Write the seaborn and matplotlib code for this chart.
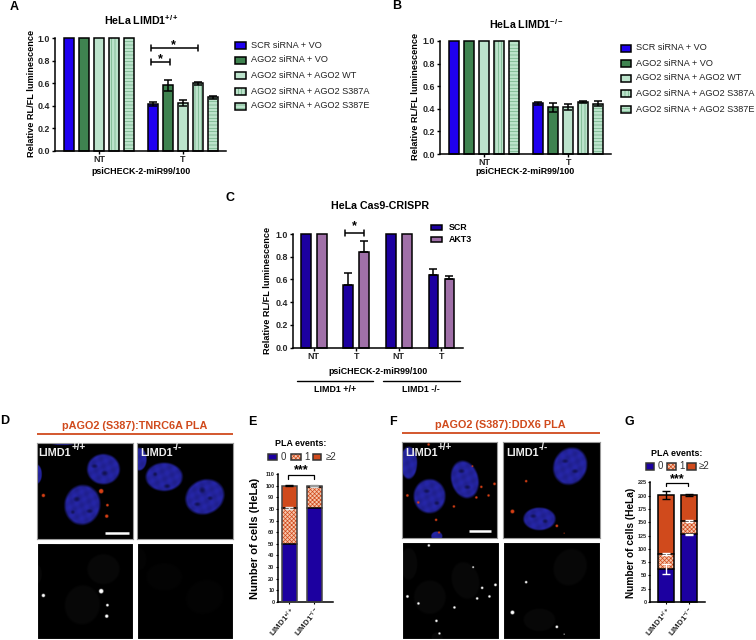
import numpy as np
import pandas as pd
import matplotlib
matplotlib.use('Agg')
import matplotlib.pyplot as plt
import seaborn as sns
from matplotlib.patches import Rectangle

W, H = 756, 640

# bar data, panels A and B
targets = ['NT', 'T']
conditions = ['SCR siRNA + VO', 'AGO2 siRNA + VO', 'AGO2 siRNA + AGO2 WT',
              'AGO2 siRNA + AGO2 S387A', 'AGO2 siRNA + AGO2 S387E']
a_nt = [1.0, 1.0, 1.0, 1.0, 1.0]
a_t = [0.415, 0.58, 0.425, 0.60, 0.475]
a_t_err = [0.02, 0.045, 0.025, 0.015, 0.012]
b_nt = [1.0, 1.0, 1.0, 1.0, 1.0]
b_t = [0.45, 0.415, 0.415, 0.46, 0.445]
b_t_err = [0.012, 0.04, 0.025, 0.012, 0.02]
cond_colors = ['#1F00F0', '#3F8350', '#BCE3CC', '#BCE3CC', '#BCE3CC']
cond_hatches = [None, None, None, '|||||', '-----']
HATCH_GREEN = '#6FAF85'

# panel C
c_targets = ['NT', 'T', 'NT ', 'T ']
c_scr = [1.0, 0.55, 1.0, 0.635]
c_akt3 = [1.0, 0.845, 1.0, 0.605]
c_scr_err = [0, 0.11, 0, 0.06]
c_akt3_err = [0, 0.09, 0, 0.025]
C_BLUE = '#1C00A0'
C_PURPLE = '#A070A8'
C_ORANGE = '#D04A1C'

# stacked panels E and G
limd_labels = ['LIMD1$^{+/+}$', 'LIMD1$^{-/-}$']
e_zero = [50, 81]
e_one = [31, 18]
e_two = [19, 1]
g_zero = [62, 127]
g_one = [29, 26]
g_two = [110, 48]
g_zero_err = [9, 1.5]
g_one_err = [2, 2]
g_two_err = [7, 2.5]
e_one_err = [1, 0.5]
e_two_err = [0.5, 0.5]

# microscopy panels, in panel pixels (x, y, rx, ry, angle)
d_left_nuclei = [(45.7, 62.7, 19, 21, 10), (67, 27, 17.5, 16, 0), (0, 32, 5, 10, 0), (26, 0, 15, 3, 0)]
d_left_holes = [(40, 57, 3, 2.5), (53, 69, 3, 2), (58, 24, 3, 2), (68, 31, 3, 2.5), (36, 70, 2, 2)]
d_left_dots = [(6.3, 53.3, 1.5), (64.7, 49, 2), (71, 63, 1.2), (70.3, 74, 1.5)]
d_right_nuclei = [(27, 34.7, 19.5, 15, 0), (67.7, 54.7, 21, 18, -25), (2, 17, 8, 12, 0)]
d_right_holes = [(30, 44, 3, 2), (18, 32, 2, 2), (65, 48, 3, 3), (73, 56, 2.5, 2), (60, 62, 3, 2)]
f_left_nuclei = [(27.7, 55, 17, 18, 0), (63.3, 38.3, 14.5, 20, -15), (6.7, 21.7, 9, 17, 0), (35, 95, 6, 5, 0)]
f_left_holes = [(25, 50, 3, 2), (35, 62, 2.5, 2), (60, 30, 3, 2), (66, 46, 3, 2)]
f_left_dots = [(26.7, 3.3, 1.1), (71, 25, 0.8), (80, 45.7, 1.1), (93.3, 42.7, 1.2), (87.3, 54.3, 1.1), (75, 56.3, 1.1),
               (52.3, 65.3, 1.1), (5.3, 54.3, 1.2), (16.3, 61.3, 1.1), (34.3, 78.7, 1.1), (37.3, 91.3, 1.0)]
f_right_nuclei = [(67, 25, 17.5, 20, 25), (36.3, 77.7, 17, 12, 0)]
f_right_holes = [(62, 20, 3, 2), (72, 30, 3, 2), (30, 75, 3, 2), (42, 80, 2.5, 2)]
f_right_dots = [(23, 40, 1.1), (9.3, 70.3, 1.7), (53.7, 84.7, 1.2), (61, 92, 0.5)]

sns.set_style('ticks')
plt.rcParams['font.family'] = ['Liberation Sans', 'DejaVu Sans']
plt.rcParams['mathtext.fontset'] = 'custom'
plt.rcParams['mathtext.rm'] = 'Liberation Sans'
plt.rcParams['mathtext.bf'] = 'Liberation Sans:bold'
plt.rcParams['mathtext.default'] = 'regular'
plt.rcParams['hatch.linewidth'] = 0.5

fig = plt.figure(figsize=(W / 100, H / 100), dpi=100, facecolor='white')


def axes_px(left, top, right, bottom):
    return fig.add_axes([left / W, 1 - bottom / H, (right - left) / W, (bottom - top) / H])


# overlay in pixel coordinates for labels, brackets and legends
over = fig.add_axes([0, 0, 1, 1], zorder=10)
over.set_xlim(0, W)
over.set_ylim(H, 0)
over.axis('off')


def label(x, y, s, size=6.4, weight='bold', color='black', rotation=0, ha='center'):
    over.text(x, y, s, fontsize=size, fontweight=weight, color=color, rotation=rotation,
              ha=ha, va='center')


def bracket(x0, x1, y, star_x, star_y, stars='*', both=True, lw=1.1):
    over.plot([x0, x1], [y, y], color='black', lw=lw, solid_capstyle='butt')
    low = y + 3 if both else y + 3.5
    high = y - 3 if both else y
    over.plot([x0, x0], [high, low], color='black', lw=lw)
    over.plot([x1, x1], [high, low], color='black', lw=lw)
    label(star_x, star_y, stars, size=9)


def swatch(x0, x1, yc, color, hatch=None, hatch_color=None, h=7, edge='black', lw=1.1):
    over.add_patch(Rectangle((x0, yc - h / 2), x1 - x0, h, facecolor=color,
                             edgecolor=hatch_color if hatch else 'none', hatch=hatch, lw=0))
    over.add_patch(Rectangle((x0, yc - h / 2), x1 - x0, h, facecolor='none', edgecolor=edge, lw=lw))


def outline_bars(ax, edge='black', lw=1.1):
    for p in list(ax.patches):
        ax.add_patch(Rectangle((p.get_x(), p.get_y()), p.get_width(), p.get_height(), facecolor='none',
                               edgecolor=edge, lw=lw, clip_on=False, zorder=3))


def style_axis(ax, yticks, size=6.4, ticklen=2.2, ypad=1.2, xpad=1):
    ax.set_yticks(yticks)
    ax.set_xlabel('')
    ax.set_ylabel('')
    ax.tick_params(axis='y', labelsize=size, length=ticklen, width=1, pad=ypad, color='black')
    ax.tick_params(axis='x', labelsize=size, length=ticklen, width=1, pad=xpad, color='black')
    for t in ax.get_xticklabels() + ax.get_yticklabels():
        t.set_fontweight('bold')
    sns.despine(ax=ax)
    for side in ['left', 'bottom']:
        ax.spines[side].set_linewidth(1.1)
        ax.spines[side].set_color('black')


def grouped_panel(box, nt, t, t_err):
    ax = axes_px(*box)
    df = pd.DataFrame({
        'target': [targets[0]] * 5 + [targets[1]] * 5,
        'condition': conditions * 2,
        'value': nt + t,
    })
    sns.barplot(data=df, x='target', y='value', hue='condition', hue_order=conditions, palette=cond_colors,
                width=0.89, gap=0.3, errorbar=None, saturation=1, legend=False, linewidth=0, ax=ax)
    bars = list(ax.patches)
    for i, p in enumerate(bars):
        hatch = cond_hatches[i // 2]
        if hatch:
            p.set_hatch(hatch)
            p.set_edgecolor(HATCH_GREEN)
            p.set_linewidth(0)
    outline_bars(ax)
    for k in range(5):
        p = bars[k * 2 + 1]
        ax.errorbar(p.get_x() + p.get_width() / 2, t[k], yerr=t_err[k], color='black',
                    capsize=3.2, elinewidth=1.1, capthick=1.1, zorder=4)
    ax.set_xlim(-0.53, 1.51)
    ax.set_ylim(0, 1)
    style_axis(ax, [0, 0.2, 0.4, 0.6, 0.8, 1.0])
    ax.set_yticklabels(['0.0', '0.2', '0.4', '0.6', '0.8', '1.0'], fontweight='bold')
    return ax


# panel A
grouped_panel((54.5, 38, 226, 151), a_nt, a_t, a_t_err)
# panel B
grouped_panel((439.5, 41, 611, 154), b_nt, b_t, b_t_err)

for x0, x1, text_x, ys in [(235, 246, 251, [45, 60, 75.5, 91, 106]), (620.5, 631, 635.5, [48, 63, 78, 93, 109])]:
    for k, yc in enumerate(ys):
        swatch(x0, x1, yc, cond_colors[k], cond_hatches[k], HATCH_GREEN)
        label(text_x, yc, conditions[k], size=6.6, weight='normal', ha='left', color='#222222')

label(32, 93, 'Relative RL/FL luminescence', size=6.6, rotation=90)
label(141, 172, 'psiCHECK-2-miR99/100')
label(141, 20, 'HeLa LIMD1$^{+/+}$', size=7.7)
bracket(151.3, 197.7, 48, 173, 45)
bracket(151.3, 170, 62, 160, 59)

label(416, 96, 'Relative RL/FL luminescence', size=6.6, rotation=90)
label(525, 172, 'psiCHECK-2-miR99/100')
label(526, 24, 'HeLa LIMD1$^{-/-}$', size=7.7)

# panel C
ax_c = axes_px(292.5, 234, 463, 347.5)
df_c = pd.DataFrame({
    'target': c_targets * 2,
    'group': ['SCR'] * 4 + ['AKT3'] * 4,
    'value': c_scr + c_akt3,
})
sns.barplot(data=df_c, x='target', y='value', hue='group', palette=[C_BLUE, C_PURPLE], width=0.753, gap=0.4,
            errorbar=None, saturation=1, legend=False, linewidth=0, ax=ax_c)
c_bars = list(ax_c.patches)
outline_bars(ax_c)
c_errs = c_scr_err + c_akt3_err
for p, e in zip(c_bars, c_errs):
    if e > 0:
        ax_c.errorbar(p.get_x() + p.get_width() / 2, p.get_height(), yerr=[[0], [e]], color='black',
                      capsize=2.6, elinewidth=1.1, capthick=1.1, zorder=4)
ax_c.set_xlim(-0.5, 3.51)
ax_c.set_ylim(0, 1)
style_axis(ax_c, [0, 0.2, 0.4, 0.6, 0.8, 1.0])
ax_c.set_yticklabels(['0.0', '0.2', '0.4', '0.6', '0.8', '1.0'], fontweight='bold')
ax_c.set_xticks(range(4))
ax_c.set_xticklabels(['NT', 'T', 'NT', 'T'], fontweight='bold')

label(380, 206, 'HeLa Cas9-CRISPR', size=7.7)
label(268, 290, 'Relative RL/FL luminescence', size=6.6, rotation=90)
label(378, 372, 'psiCHECK-2-miR99/100')
over.plot([297, 373], [381, 381], color='black', lw=1)
over.plot([383, 460], [381, 381], color='black', lw=1)
label(335, 390, 'LIMD1 +/+')
label(421, 390, 'LIMD1 -/-')
bracket(345, 363.7, 232.5, 354.7, 226)
swatch(431, 442, 227, C_BLUE, h=5)
swatch(431, 442, 239.5, C_PURPLE, h=5)
label(449, 227, 'SCR', ha='left')
label(449, 239.5, 'AKT3', ha='left')


def stacked_panel(box, zero, one, two, xlim, ymax, yticks, bar_w, edge):
    ax = axes_px(*box)
    top = [a + b + c for a, b, c in zip(zero, one, two)]
    mid = [a + b for a, b in zip(zero, one)]
    sns.barplot(x=limd_labels, y=top, color=C_ORANGE, width=bar_w, saturation=1, errorbar=None, linewidth=0, ax=ax)
    n = len(ax.patches)
    sns.barplot(x=limd_labels, y=mid, color='#F6C6AC', width=bar_w, saturation=1, errorbar=None, linewidth=0, ax=ax)
    for p in ax.patches[n:]:
        p.set_hatch('xxxxxxxx')
        p.set_edgecolor(C_ORANGE)
        p.set_linewidth(0)
    sns.barplot(x=limd_labels, y=zero, color=C_BLUE, width=bar_w, saturation=1, errorbar=None, linewidth=0, ax=ax)
    bars = list(ax.patches)
    for p in bars[n:]:
        ax.plot([p.get_x(), p.get_x() + p.get_width()], [p.get_height()] * 2, color='black', lw=1.1, zorder=3)
    for p in bars[:n]:
        ax.add_patch(Rectangle((p.get_x(), 0), p.get_width(), p.get_height(), facecolor='none',
                               edgecolor=edge, lw=1.1, clip_on=False, zorder=3))
    ax.set_xlim(*xlim)
    ax.set_ylim(0, ymax)
    style_axis(ax, yticks, size=4, ticklen=1.6, ypad=0.6)
    ax.tick_params(axis='both', width=0.8)
    ax.set_xticks([0, 1])
    ax.set_xticklabels(limd_labels, rotation=50, ha='right', rotation_mode='anchor', fontsize=5.7, fontweight='bold')
    centers = [p.get_x() + p.get_width() / 2 for p in bars[:n]]
    return ax, centers, top, mid


# panel E
ax_e, xs_e, top_e, mid_e = stacked_panel((277.5, 474, 333, 602), e_zero, e_one, e_two, (-0.47, 1.76), 110,
                                         list(range(0, 111, 10)), 0.6, '#444444')
ax_e.errorbar(xs_e, mid_e, yerr=e_one_err, fmt='none', color='#E8E8E8', capsize=2.8, elinewidth=1, capthick=1, zorder=4)
ax_e.errorbar(xs_e[:1], top_e[:1], yerr=e_two_err[:1], fmt='none', color='black', capsize=2.8, elinewidth=1, capthick=1, zorder=4)
ax_e.errorbar(xs_e[1:], top_e[1:], yerr=e_two_err[1:], fmt='none', color='#999999', capsize=2.8, elinewidth=1, capthick=1, zorder=4)
label(255, 538, 'Number of cells (HeLa)', size=8, rotation=90)

# panel G
ax_g, xs_g, top_g, mid_g = stacked_panel((650, 482.3, 705, 602), g_zero, g_one, g_two, (-0.67, 1.69), 225,
                                         list(range(0, 226, 25)), 0.69, 'black')
ax_g.errorbar(xs_g, g_zero, yerr=g_zero_err, fmt='none', color='white', capsize=3.2, elinewidth=1, capthick=1, zorder=4)
ax_g.errorbar(xs_g, mid_g, yerr=g_one_err, fmt='none', color='white', capsize=3.2, elinewidth=1, capthick=1, zorder=4)
ax_g.errorbar(xs_g, top_g, yerr=g_two_err, fmt='none', color='black', capsize=3.2, elinewidth=1, capthick=1, zorder=4,
              clip_on=False)
label(631.5, 543, 'Number of cells (HeLa)', size=7.3, rotation=90)

PLA_FACE = '#F6C6AC'
for title_x, title_y, yc, boxes, text_xs in [
    (301, 443.7, 457, [(268, 277), (291, 300.7), (312.7, 321)], [283, 307.3, 330.7]),
    (677, 453.3, 466.3, [(645.7, 654.3), (667.3, 676), (687.3, 696)], [660.7, 682, 704.3]),
]:
    label(title_x, title_y, 'PLA events:')
    for (x0, x1), tx, col, hat, name in zip(boxes, text_xs, [C_BLUE, PLA_FACE, C_ORANGE], [None, 'xxxxxxxx', None], ['0', '1', '≥2']):
        swatch(x0, x1, yc, col, hat, C_ORANGE, h=6.5, edge='#333333')
        label(tx, yc, name, size=7, weight='normal', color='#333333')
bracket(288.3, 314, 475.3, 301, 470, stars='***', both=False, lw=0.9)
bracket(666, 688.3, 482.7, 677.3, 479, stars='***', both=False, lw=0.9)


# microscopy images
def render_panel(nuclei, holes, dots, base, dot_rgb, texture=True, size=97):
    ys, xs = np.mgrid[0:size * 3, 0:size * 3] / 3.0
    img = np.zeros((size * 3, size * 3, 3))
    for cx, cy, rx, ry, ang in nuclei:
        t = np.radians(ang)
        u = (xs - cx) * np.cos(t) + (ys - cy) * np.sin(t)
        v = -(xs - cx) * np.sin(t) + (ys - cy) * np.cos(t)
        r = np.sqrt((u / rx) ** 2 + (v / ry) ** 2)
        mask = np.clip((1 - r) * 7, 0, 1)
        shade = np.ones_like(xs)
        if texture:
            shade = 0.92 + 0.08 * np.sin(xs * 0.55 + ys * 0.23) * np.cos(ys * 0.47 - xs * 0.17)
        img += mask[..., None] * np.array(base) * shade[..., None]
    for cx, cy, rx, ry in holes:
        r = np.sqrt(((xs - cx) / rx) ** 2 + ((ys - cy) / ry) ** 2)
        img *= (1 - 0.45 * np.clip(1.3 - r, 0, 1))[..., None]
    for cx, cy, rad in dots:
        r = np.sqrt((xs - cx) ** 2 + (ys - cy) ** 2) / rad
        m = np.clip((1.35 - r) * 2, 0, 1)[..., None]
        img = img * (1 - m) + np.array(dot_rgb) * m
    return np.clip(img, 0, 1)


BLUE_NUC = (0.15, 0.15, 0.66)
GREY_NUC = (0.03, 0.03, 0.03)
RED_DOT = (0.85, 0.25, 0.08)
WHITE_DOT = (1, 1, 1)


def image_axes(box, img, border='#999999'):
    ax = axes_px(*box)
    ax.imshow(img, extent=(0, 97, 97, 0), interpolation='bilinear', aspect='auto')
    ax.set_xticks([])
    ax.set_yticks([])
    for s in ax.spines.values():
        s.set_color(border)
        s.set_linewidth(0.8)
    return ax


image_axes((37, 443, 133, 539), render_panel(d_left_nuclei, d_left_holes, d_left_dots, BLUE_NUC, RED_DOT))
image_axes((136.5, 443, 233, 539), render_panel(d_right_nuclei, d_right_holes, [], BLUE_NUC, RED_DOT))
image_axes((37, 542.5, 133, 639), render_panel(d_left_nuclei, [], d_left_dots, GREY_NUC, WHITE_DOT, False), 'white')
image_axes((136.5, 542.5, 233, 639), render_panel(d_right_nuclei, [], [], (0.012, 0.012, 0.012), WHITE_DOT, False), 'white')
image_axes((401.7, 441.7, 496.7, 538.3), render_panel(f_left_nuclei, f_left_holes, f_left_dots, BLUE_NUC, RED_DOT))
image_axes((503, 441.7, 600, 538.3), render_panel(f_right_nuclei, f_right_holes, f_right_dots, BLUE_NUC, RED_DOT))
image_axes((401.7, 542.3, 498.7, 639), render_panel(f_left_nuclei, [], f_left_dots, GREY_NUC, WHITE_DOT, False), 'white')
image_axes((503, 542.3, 600, 639), render_panel(f_right_nuclei, [], f_right_dots, GREY_NUC, WHITE_DOT, False), 'white')

over.plot([104.5, 128.5], [533, 533], color='white', lw=1.8, solid_capstyle='butt')
over.plot([469, 490.5], [530.7, 530.7], color='white', lw=1.8, solid_capstyle='butt')
label(38.5, 453, 'LIMD1', size=7.8, color='#EEEEEE', ha='left')
label(72, 447, '+/+', size=7.2, color='#EEEEEE', ha='left')
label(140, 453, 'LIMD1', size=7.8, color='#EEEEEE', ha='left')
label(173, 447, '-/-', size=7.2, color='#EEEEEE', ha='left')
label(405, 452.5, 'LIMD1', size=7.8, color='#EEEEEE', ha='left')
label(438, 447, '+/+', size=7.2, color='#EEEEEE', ha='left')
label(506.5, 452.5, 'LIMD1', size=7.8, color='#EEEEEE', ha='left')
label(539, 447, '-/-', size=7.2, color='#EEEEEE', ha='left')

label(135, 425.7, 'pAGO2 (S387):TNRC6A PLA', size=7.8, color=C_ORANGE)
over.plot([37, 233], [434, 434], color=C_ORANGE, lw=1.3, solid_capstyle='butt')
label(500, 424.5, 'pAGO2 (S387):DDX6 PLA', size=7.8, color=C_ORANGE)
over.plot([401.7, 600], [433, 433], color=C_ORANGE, lw=1.3, solid_capstyle='butt')

for x, y, s in [(14, 7, 'A'), (397, 6, 'B'), (230, 198, 'C'), (5, 421, 'D'), (252, 422, 'E'), (393, 422, 'F'), (629, 422, 'G')]:
    label(x, y, s, size=9)

fig.savefig('out.png', dpi=100)
